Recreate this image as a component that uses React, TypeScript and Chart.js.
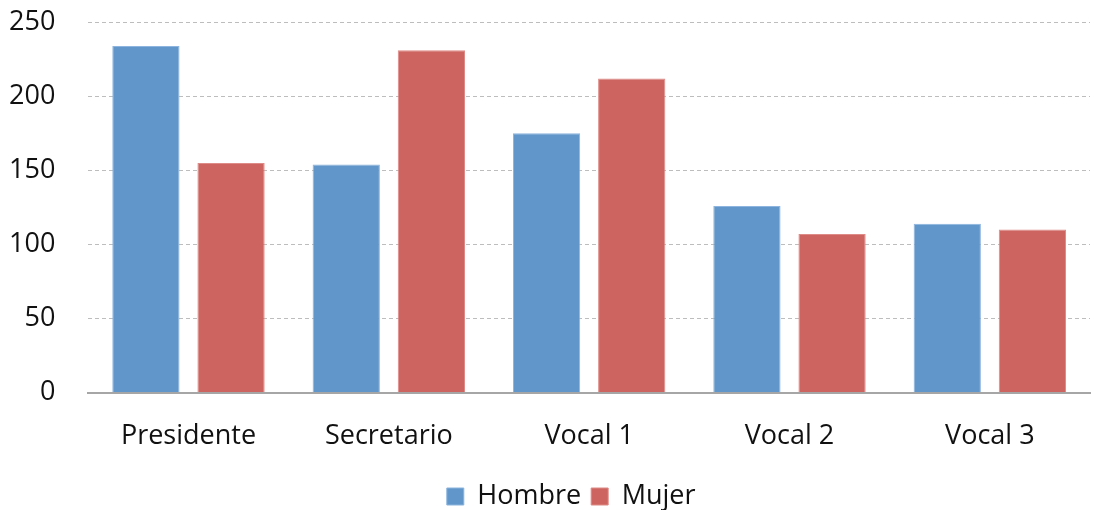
import React, { useEffect, useRef } from "react";
import { Chart, registerables } from "chart.js";

Chart.register(...registerables);

const categories = ["Presidente", "Secretario", "Vocal 1", "Vocal 2", "Vocal 3"];
const hombre = [234, 154, 175, 126, 114];
const mujer = [155, 231, 212, 107, 110];
const yTicks = [0, 50, 100, 150, 200, 250];

const SHIFT = 27;

const legendShift = {
  id: "legendShift",
  afterLayout(chart: any) {
    const l = chart.legend;
    if (l) {
      l.left -= 18;
      l.right -= 18;
    }
  },
};

export default function App() {
  const ref = useRef<HTMLCanvasElement | null>(null);
  useEffect(() => {
    document.body.style.margin = "0";
    let chart: Chart | null = null;
    let cancelled = false;
    const make = () => {
      if (cancelled || !ref.current) return;
      const font = { family: "'Open Sans'", size: 27 };
      chart = new Chart(ref.current, {
        type: "bar",
        data: {
          labels: categories,
          datasets: [
            {
              label: "Hombre",
              data: hombre,
              backgroundColor: "#6096CA",
              borderColor: "#8CB4DE",
              borderWidth: 1,
            },
            {
              label: "Mujer",
              data: mujer,
              backgroundColor: "#CD645F",
              borderColor: "#DE8A86",
              borderWidth: 1,
            },
          ],
        },
        plugins: [legendShift],
        options: {
          animation: false,
          responsive: false,
          maintainAspectRatio: false,
          layout: { padding: { left: -24, right: 7, top: 0, bottom: -10 } },
          datasets: { bar: { categoryPercentage: 0.85, barPercentage: 0.79 } },
          plugins: {
            tooltip: { enabled: false },
            legend: {
              position: "bottom",
              fullSize: false,
              labels: {
                font,
                color: "#111",
                boxWidth: 17,
                boxHeight: 17,
                padding: 10,
              },
            },
          },
          scales: {
            x: {
              grid: { display: false },
              border: { display: true, color: "#A6A6A6", width: 2 },
              ticks: { font, color: "#111", padding: 20 },
            },
            y: {
              min: 0,
              max: 250,
              afterBuildTicks: (axis: any) => {
                axis.ticks = yTicks.map((v) => ({ value: v }));
              },
              border: { display: false, dash: [4, 3] },
              grid: {
                color: (c: any) => (c.tick && c.tick.value === 0 ? "rgba(0,0,0,0)" : "#BDBDBD"),
                drawTicks: false,
                lineWidth: 1,
              },
              ticks: { font, color: "#111", padding: 33 },
            },
          },
        },
      });
    };
    const fonts: any = (document as any).fonts;
    if (fonts && fonts.load) {
      fonts.load("27px 'Open Sans'").then(make, make);
    } else {
      make();
    }
    return () => {
      cancelled = true;
      if (chart) chart.destroy();
    };
  }, []);
  return (
    <div style={{ width: 1097, height: 510, overflow: "hidden", position: "relative" }}>
      <canvas
        ref={ref}
        width={1097}
        height={510 + SHIFT}
        style={{ display: "block", marginTop: -SHIFT }}
      />
    </div>
  );
}
